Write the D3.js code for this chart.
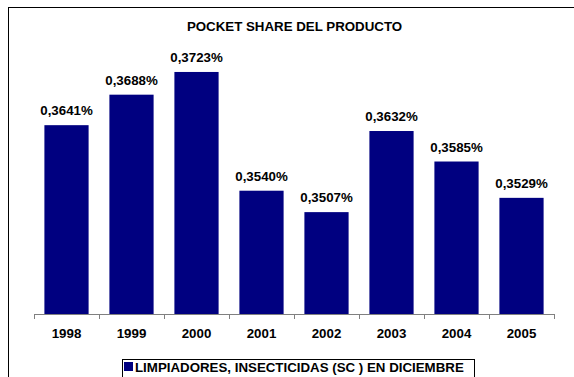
<!DOCTYPE html>
<html><head><meta charset="utf-8">
<script src="https://cdn.jsdelivr.net/npm/d3@7"></script>
<style>body{margin:0;background:#fff}svg{display:block}text{font-family:"Liberation Sans",Arial,sans-serif;font-weight:bold;fill:#000}</style>
</head><body>
<script>
const years = ["1998","1999","2000","2001","2002","2003","2004","2005"];
const values = [0.3641,0.3688,0.3723,0.3540,0.3507,0.3632,0.3585,0.3529];
const labels = ["0,3641%","0,3688%","0,3723%","0,3540%","0,3507%","0,3632%","0,3585%","0,3529%"];
const title = "POCKET SHARE DEL PRODUCTO";
const seriesName = "LIMPIADORES, INSECTICIDAS (SC ) EN DICIEMBRE";

const W=574,H=377;
const svg=d3.select("body").append("svg").attr("width",W).attr("height",H);
svg.append("rect").attr("width",W).attr("height",H).attr("fill","#fff");
svg.append("rect").attr("x",8.5).attr("y",7.5).attr("width",W+10).attr("height",H+10)
  .attr("fill","none").attr("stroke","#000").attr("stroke-width",1);

const x=d3.scaleBand().domain(years).range([34,554]).paddingInner(0.32).paddingOuter(0.16);
const y=d3.scaleLinear().domain([0.335,0.38]).range([314,22]);

svg.append("text").attr("x",294.5).attr("y",31).attr("text-anchor","middle")
  .style("font-size","13.3px").text(title);

svg.selectAll("rect.bar").data(values).enter().append("rect").attr("class","bar")
  .attr("x",(d,i)=>x(years[i])).attr("width",x.bandwidth())
  .attr("y",d=>y(d)).attr("height",d=>y.range()[0]-y(d)).attr("fill","#000080");

svg.selectAll("text.lbl").data(values).enter().append("text").attr("class","lbl")
  .attr("x",(d,i)=>x(years[i])+x.bandwidth()/2).attr("y",d=>y(d)-10)
  .attr("text-anchor","middle").style("font-size","13.3px").text((d,i)=>labels[i]);

// axis
const g=svg.append("g");
g.append("line").attr("x1",34).attr("x2",554).attr("y1",314.5).attr("y2",314.5).attr("stroke","#808080");
const edges=years.map(d=>x(d)-x.step()*x.paddingInner()/2).concat([554]);
g.selectAll("line.tk").data(edges).enter().append("line").attr("class","tk")
  .attr("x1",d=>Math.round(d)+0.5).attr("x2",d=>Math.round(d)+0.5).attr("y1",314).attr("y2",319).attr("stroke","#808080");
g.selectAll("text.yr").data(years).enter().append("text").attr("class","yr")
  .attr("x",d=>x(d)+x.bandwidth()/2).attr("y",338).attr("text-anchor","middle")
  .style("font-size","13.3px").text(d=>d);

// legend
const lg=svg.append("g");
lg.append("rect").attr("x",122.5).attr("y",359.5).attr("width",352).attr("height",24)
  .attr("fill","#fff").attr("stroke","#000");
lg.append("rect").attr("x",124).attr("y",362).attr("width",9).attr("height",9).attr("fill","#000080");
lg.append("text").attr("x",135).attr("y",372).style("font-size","13.3px").text(seriesName);
</script>
</body></html>
